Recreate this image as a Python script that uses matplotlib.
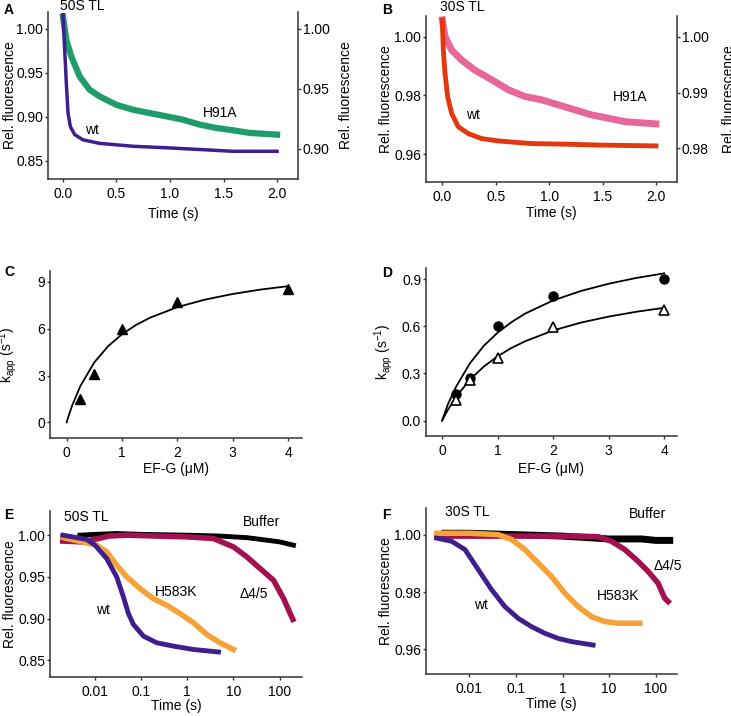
import matplotlib
matplotlib.use("Agg")
import matplotlib.pyplot as plt
import matplotlib.transforms as mtransforms

plt.rcParams['font.family'] = ['Liberation Sans', 'DejaVu Sans']
plt.rcParams['font.size'] = 10
plt.rcParams['mathtext.default'] = 'regular'

W, H = 731, 716

# ---- data ----
# A: 50S TL, stopped flow (s)
a_wt_t = [0, 0.016, 0.031, 0.047, 0.069, 0.109, 0.187, 0.343, 0.654, 0.966, 1.277, 1.59, 2.0]
a_wt_v = [1.016, 0.9765, 0.939, 0.9045, 0.889, 0.880, 0.874, 0.870, 0.8667, 0.865, 0.863, 0.861, 0.861]
a_h91a_t = [0, 0.031, 0.078, 0.156, 0.249, 0.343, 0.498, 0.654, 0.81, 0.966, 1.121, 1.277, 1.433, 1.589, 1.745, 2.0]
a_h91a_v = [1.010, 0.9906, 0.9768, 0.9602, 0.9492, 0.9436, 0.9367, 0.9326, 0.9298, 0.9271, 0.9243, 0.9202,
            0.9174, 0.9155, 0.9133, 0.9119]

# B: 30S TL
b_wt_t = [0, 0.009, 0.025, 0.05, 0.087, 0.15, 0.243, 0.368, 0.524, 0.836, 1.148, 1.46, 2.0]
b_wt_v = [1.0057, 0.9955, 0.9875, 0.9795, 0.9739, 0.9693, 0.967, 0.9653, 0.9645, 0.9636, 0.9634, 0.9631, 0.9628]
b_h91a_t = [0, 0.025, 0.087, 0.181, 0.306, 0.462, 0.618, 0.774, 0.93, 1.086, 1.242, 1.398, 1.554, 1.71, 2.0]
b_h91a_v = [1.003, 1.000, 0.9976, 0.9958, 0.994, 0.9923, 0.9905, 0.9893, 0.9887, 0.9878, 0.9869, 0.986,
            0.9854, 0.9848, 0.9844]

# C / D: kapp vs EF-G
efg = [0.25, 0.5, 1, 2, 4]
c_kapp = [1.47, 3.1, 5.96, 7.73, 8.52]
d_kapp_filled = [0.172, 0.27, 0.60, 0.79, 0.90]
d_kapp_open = [0.13, 0.257, 0.40, 0.596, 0.70]
fit_x = [0, 0.05, 0.1, 0.25, 0.5, 0.75, 1, 1.25, 1.5, 2, 2.5, 3, 3.5, 4]
c_fit = [0, 0.57, 1.08, 2.34, 3.84, 4.88, 5.64, 6.23, 6.69, 7.38, 7.86, 8.22, 8.50, 8.72]
d_fit_filled = [0, 0.05, 0.10, 0.214, 0.364, 0.475, 0.559, 0.626, 0.681, 0.764, 0.824, 0.870, 0.907, 0.936]
d_fit_open = [0, 0.034, 0.066, 0.150, 0.260, 0.343, 0.409, 0.462, 0.505, 0.573, 0.623, 0.661, 0.692, 0.717]

# E: 50S TL, log time
e_buf_t = [0.0047, 0.01, 0.03, 0.1, 1, 5, 10, 20, 53, 100, 200]
e_buf_v = [1.000, 1.001, 1.002, 1.001, 1.000, 0.999, 0.998, 0.997, 0.994, 0.992, 0.988]
e_d45_t = [0.002, 0.005, 0.01, 0.02, 0.05, 0.2, 1, 3.69, 10, 19.5, 37.9, 73.8, 122, 170, 194]
e_d45_v = [0.993, 0.992, 0.995, 0.999, 1.000, 0.999, 0.998, 0.996, 0.986, 0.974, 0.960, 0.946, 0.924, 0.906, 0.899]
e_h583k_t = [0.0021, 0.0109, 0.0179, 0.0295, 0.0487, 0.0946, 0.184, 0.359, 0.698, 1.36, 2.64, 5.14, 10.0]
e_h583k_v = [0.997, 0.988, 0.980, 0.964, 0.950, 0.936, 0.924, 0.916, 0.906, 0.895, 0.881, 0.871, 0.863]
e_wt_t = [0.002, 0.0066, 0.01, 0.0179, 0.0295, 0.0412, 0.0529, 0.0679, 0.112, 0.218, 0.5, 1.36, 4.73]
e_wt_v = [1.000, 0.995, 0.988, 0.972, 0.950, 0.926, 0.906, 0.893, 0.879, 0.871, 0.867, 0.863, 0.860]

# F: 30S TL, log time
f_buf_t = [0.003, 0.01, 0.1, 1, 10, 50, 100, 200]
f_buf_v = [1.0005, 1.0005, 1.000, 0.9995, 0.9985, 0.9985, 0.998, 0.998]
f_d45_t = [0.002, 0.05, 0.5, 2, 5.81, 11.2, 21.7, 41.8, 68.5, 112, 156, 184]
f_d45_v = [0.9995, 0.9995, 0.9995, 0.9995, 0.9993, 0.9977, 0.9948, 0.9907, 0.9872, 0.9831, 0.9778, 0.9767]
f_h583k_t = [0.002, 0.01, 0.0418, 0.0807, 0.156, 0.301, 0.581, 1.12, 2.17, 4.18, 8.07, 15.6, 45.4]
f_h583k_v = [1.0005, 1.0005, 1.000, 0.9983, 0.9948, 0.9901, 0.9854, 0.9796, 0.9749, 0.9714, 0.9697, 0.9691, 0.9691]
f_wt_t = [0.002, 0.00418, 0.00808, 0.0156, 0.0301, 0.0581, 0.112, 0.217, 0.418, 0.807, 1.56, 4.54]
f_wt_v = [0.9988, 0.9977, 0.9948, 0.9878, 0.9808, 0.9749, 0.9708, 0.9679, 0.9656, 0.9638, 0.9627, 0.9615]

log_ticks = [0.01, 0.1, 1, 10, 100]
log_labels = ['0.01', '0.1', '1', '10', '100']

PURPLE = '#3d1f8e'
GREEN = '#1f9c6c'
PINK = '#e8679b'
RED = '#e2380f'
ORANGE = '#f5a238'
MAROON = '#a3114f'
SPINE = '#333333'

fig = plt.figure(figsize=(W / 100, H / 100), dpi=100)


def box(l, t, r, b):
    return [l / W, 1 - b / H, (r - l) / W, (b - t) / H]


def style(ax, right=False):
    ax.spines['top'].set_visible(False)
    ax.spines['right'].set_visible(right)
    for s in ax.spines.values():
        s.set_color(SPINE)
        s.set_linewidth(1.1)
    ax.tick_params(direction='out', length=2.5, width=1.0, color=SPINE, labelsize=10)
    ax.tick_params(axis='x', pad=3)
    ax.tick_params(axis='y', pad=1)
    ax.minorticks_off()


def ylab(ax, text, px):
    ax.set_ylabel(text, fontsize=10)
    tr = mtransforms.blended_transform_factory(fig.transFigure, ax.transAxes)
    ax.yaxis.set_label_coords(px / W, 0.5, transform=tr)


def xlab(ax, text, py):
    ax.set_xlabel(text, fontsize=10)
    tr = mtransforms.blended_transform_factory(ax.transAxes, fig.transFigure)
    ax.xaxis.set_label_coords(0.5, 1 - py / H, transform=tr)


def txt(px, py, s, **kw):
    fig.text(px / W, 1 - py / H, s, ha='center', va='center', fontsize=10, **kw)


# ---- A ----
axA = fig.add_axes(box(48, 12, 298, 179))
axA2 = axA.twinx()
axA.set_zorder(axA2.get_zorder() + 1)
axA.patch.set_visible(False)
axA2.plot(a_h91a_t, a_h91a_v, color=GREEN, lw=4.5, solid_joinstyle='round')
axA.plot(a_wt_t, a_wt_v, color=PURPLE, lw=2.5, solid_joinstyle='round')
axA.set_xlim(-0.14, 2.196)
axA.set_ylim(0.8295, 1.0193)
axA2.set_ylim(0.875, 1.0138)
axA.set_xticks([0, 0.5, 1.0, 1.5, 2.0])
axA.set_xticklabels(['0.0', '0.5', '1.0', '1.5', '2.0'])
axA.set_yticks([0.85, 0.90, 0.95, 1.00])
axA.set_yticklabels(['0.85', '0.90', '0.95', '1.00'])
axA2.set_yticks([0.90, 0.95, 1.00])
axA2.set_yticklabels(['0.90', '0.95', '1.00'])
style(axA)
style(axA2, right=True)
axA2.spines['left'].set_visible(False)
axA2.spines['bottom'].set_visible(False)
ylab(axA, 'Rel. fluorescence', 17)
ylab(axA2, 'Rel. fluorescence', 339)
xlab(axA, 'Time (s)', 207)

# ---- B ----
axB = fig.add_axes(box(426, 16, 677, 182))
axB2 = axB.twinx()
axB.set_zorder(axB2.get_zorder() + 1)
axB.patch.set_visible(False)
axB2.plot(b_h91a_t, b_h91a_v, color=PINK, lw=5, solid_joinstyle='round')
axB.plot(b_wt_t, b_wt_v, color=RED, lw=3.5, solid_joinstyle='round')
axB.set_xlim(-0.153, 2.197)
axB.set_ylim(0.9505, 1.0071)
axB2.set_ylim(0.974, 1.0037)
axB.set_xticks([0, 0.5, 1.0, 1.5, 2.0])
axB.set_xticklabels(['0.0', '0.5', '1.0', '1.5', '2.0'])
axB.set_yticks([0.96, 0.98, 1.00])
axB.set_yticklabels(['0.96', '0.98', '1.00'])
axB2.set_yticks([0.98, 0.99, 1.00])
axB2.set_yticklabels(['0.98', '0.99', '1.00'])
style(axB)
style(axB2, right=True)
axB2.spines['left'].set_visible(False)
axB2.spines['bottom'].set_visible(False)
ylab(axB, 'Rel. fluorescence', 393)
ylab(axB2, 'Rel. fluorescence', 722)
xlab(axB, 'Time (s)', 206)

# ---- C ----
axC = fig.add_axes(box(50, 271, 302, 438))
axC.plot(fit_x, c_fit, color='black', lw=1.3)
axC.plot(efg, c_kapp, '^', color='black', ms=6.5, clip_on=False)
axC.set_xlim(-0.30, 4.25)
axC.set_ylim(-1.0, 9.69)
axC.set_xticks([0, 1, 2, 3, 4])
axC.set_yticks([0, 3, 6, 9])
style(axC)
ylab(axC, r'k$_{app}$ (s$^{-1}$)', 19)
xlab(axC, 'EF-G (μM)', 462)

# ---- D ----
axD = fig.add_axes(box(426, 268, 677, 436))
axD.plot(fit_x, d_fit_filled, color='black', lw=1.3)
axD.plot(fit_x, d_fit_open, color='black', lw=1.3)
axD.plot(efg, d_kapp_filled, 'o', color='black', ms=6.5, clip_on=False)
axD.plot(efg, d_kapp_open, '^', mfc='white', mec='black', mew=1.2, ms=7, clip_on=False)
axD.set_xlim(-0.29, 4.23)
axD.set_ylim(-0.098, 0.97)
axD.set_xticks([0, 1, 2, 3, 4])
axD.set_yticks([0.0, 0.3, 0.6, 0.9])
axD.set_yticklabels(['0.0', '0.3', '0.6', '0.9'])
style(axD)
ylab(axD, r'k$_{app}$ (s$^{-1}$)', 395)
xlab(axD, 'EF-G (μM)', 462)

# ---- E ----
axE = fig.add_axes(box(50, 511, 302, 677))
axE.plot(e_buf_t, e_buf_v, color='black', lw=3.5, solid_joinstyle='round')
axE.plot(e_d45_t, e_d45_v, color=MAROON, lw=4, solid_joinstyle='round')
axE.plot(e_h583k_t, e_h583k_v, color=ORANGE, lw=4, solid_joinstyle='round')
axE.plot(e_wt_t, e_wt_v, color=PURPLE, lw=3.5, solid_joinstyle='round')
axE.set_xscale('log')
axE.set_xlim(0.001057, 306)
axE.set_ylim(0.830, 1.029)
axE.set_xticks(log_ticks)
axE.set_xticklabels(log_labels)
axE.set_yticks([0.85, 0.90, 0.95, 1.00])
axE.set_yticklabels(['0.85', '0.90', '0.95', '1.00'])
style(axE)
ylab(axE, 'Rel. fluorescence', 17)
xlab(axE, 'Time (s)', 699)

# ---- F ----
axF = fig.add_axes(box(426, 508, 677, 674))
axF.plot(f_buf_t, f_buf_v, color='black', lw=5, solid_joinstyle='round')
axF.plot(f_d45_t, f_d45_v, color=MAROON, lw=4, solid_joinstyle='round')
axF.plot(f_h583k_t, f_h583k_v, color=ORANGE, lw=4, solid_joinstyle='round')
axF.plot(f_wt_t, f_wt_v, color=PURPLE, lw=3.5, solid_joinstyle='round')
axF.set_xscale('log')
axF.set_xlim(0.001178, 286)
axF.set_ylim(0.9514, 1.0093)
axF.set_xticks(log_ticks)
axF.set_xticklabels(log_labels)
axF.set_yticks([0.96, 0.98, 1.00])
axF.set_yticklabels(['0.96', '0.98', '1.00'])
style(axF)
ylab(axF, 'Rel. fluorescence', 393)
xlab(axF, 'Time (s)', 697)

# ---- labels ----
for px, py, s in [(9, 10, 'A'), (387, 10, 'B'), (9, 272, 'C'), (387, 273, 'D'), (9, 515, 'E'), (386, 515, 'F')]:
    txt(px, py, s, fontweight='bold')

txt(82, 6, '50S TL')
txt(462, 7, '30S TL')
txt(220, 113, 'H91A')
txt(92, 130, 'wt')
txt(630, 97, 'H91A')
txt(473, 115, 'wt')

txt(86, 517, '50S TL')
txt(261, 522, 'Buffer')
txt(176, 592, 'H583K')
txt(254, 594, 'Δ4/5')
txt(103, 610, 'wt')

txt(467, 512, '30S TL')
txt(647, 514, 'Buffer')
txt(668, 566, 'Δ4/5')
txt(618, 596, 'H583K')
txt(481, 605, 'wt')

fig.savefig('out.png', dpi=100)
